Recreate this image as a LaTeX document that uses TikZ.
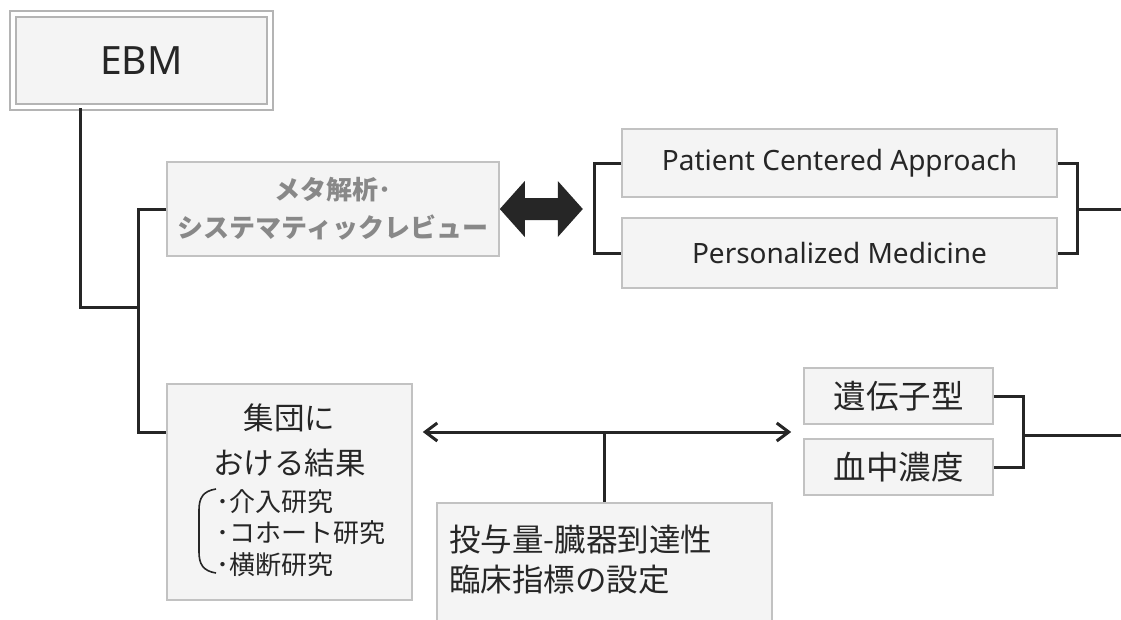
\documentclass[tikz,border=0pt]{standalone}
\usepackage{fontspec}
\setmainfont{Noto Sans CJK JP}
\newfontfamily\lat{Noto Sans}
\usetikzlibrary{arrows.meta,calc}
\definecolor{boxfill}{HTML}{F4F4F4}
\definecolor{boxline}{HTML}{C2C2C2}
\definecolor{ebmline}{HTML}{B4B4B4}
\definecolor{ink}{HTML}{262626}
\definecolor{metatext}{HTML}{888888}
\begin{document}
\begin{tikzpicture}[x=1pt,y=-1pt,
  box/.style={draw=boxline,fill=boxfill,line width=1.6pt,inner sep=0pt,text=ink},
  conn/.style={draw=ink,line width=3pt},
  txt/.style={inner sep=0pt,text=ink},
  tip/.style={{Straight Barb[length=12pt,width=18pt]}-{Straight Barb[length=12pt,width=18pt]}}
]
\clip (0,0) rectangle (1121,619);
\fill[white] (0,0) rectangle (1121,619);

% boxes
\node[box,draw=ebmline,line width=2.2pt,double=white,double distance=3.5pt,
      minimum width=257pt,minimum height=93pt,font=\lat\fontsize{39}{44}\selectfont]
      (ebm) at (141.5,60.5) {EBM};
\node[box,minimum width=332pt,minimum height=94pt,align=center,text=metatext,
      font=\bfseries\fontsize{26}{38}\selectfont]
      (meta) at (333,209) {メタ解析･\\システマティックレビュー};
\node[box,minimum width=435pt,minimum height=68pt,font=\lat\fontsize{28}{32}\selectfont]
      (pca) at (839.5,163) {Patient Centered Approach};
\node[box,minimum width=435pt,minimum height=70pt,font=\lat\fontsize{28}{32}\selectfont]
      (pm) at (839.5,253) {Personalized Medicine};
\node[box,minimum width=245pt,minimum height=216pt] (group) at (289.5,492) {};
\node[box,minimum width=335pt,minimum height=160pt] (dose) at (604.5,583) {};
\node[box,minimum width=189pt,minimum height=56pt,font=\fontsize{32.5}{36}\selectfont]
      (gene) at (898.5,396) {遺伝子型};
\node[box,minimum width=189pt,minimum height=56pt,font=\fontsize{32.5}{36}\selectfont]
      (blood) at (898.5,467) {血中濃度};

% texts inside group box
\node[txt,font=\fontsize{30.5}{34}\selectfont] (g1) at (289.5,418) {集団に};
\node[txt,font=\fontsize{30.5}{34}\selectfont] (g2) at (289.5,463) {おける結果};
\node[txt,anchor=west,align=left,font=\fontsize{26}{31.5}\selectfont]
      (glist) at (216,533) {･介入研究\\･コホート研究\\･横断研究};
\draw[ink,line width=1.6pt] (216,489) .. controls (203,491) and (199,498) .. (199,510)
   -- (199,552) .. controls (199,564) and (203,571) .. (216,573);

% text inside dose box
\node[txt,anchor=west,font=\fontsize{31.5}{35}\selectfont] (d1) at (449,540) {投与量-臓器到達性};
\node[txt,anchor=west,font=\fontsize{31.5}{35}\selectfont] (d2) at (449,580) {臨床指標の設定};

% helper coordinates
\coordinate (ebmx) at (80,0);
\coordinate (jv) at (138,307);
\coordinate (ay) at (0,432);
\coordinate (rb) at (1077,209);
\coordinate (rbend) at (1121,209);
\coordinate (gb) at (1023,435);
\coordinate (gbend) at (1121,435);

% connectors
\draw[conn] (ebm.south -| ebmx) |- (jv);
\draw[conn] (meta.west) -| (jv) |- ($(group.west |- ay)$);
\draw[conn] (pca.west) -- ++(-27,0) |- (pm.west);
\draw[conn] (pca.east) -- ++(20,0) |- (pm.east);
\draw[conn] (rb) -- (rbend);
\draw[conn] (gene.east) -- ++(30,0) |- (blood.east);
\draw[conn] (gb) -- (gbend);
\draw[conn,tip] ($(group.east |- ay)+(10,0)$) -- ($(gene.west |- ay)+(-12,0)$);
\draw[conn] (dose.north) -- (dose.north |- ay);

% fat double arrow
\fill[ink] (meta.east) -- ++(25,-28) -- ++(0,17) -- ++(33,0) -- ++(0,-17) -- ++(25,28)
   -- ++(-25,28) -- ++(0,-17) -- ++(-33,0) -- ++(0,17) -- cycle;
\end{tikzpicture}
\end{document}
